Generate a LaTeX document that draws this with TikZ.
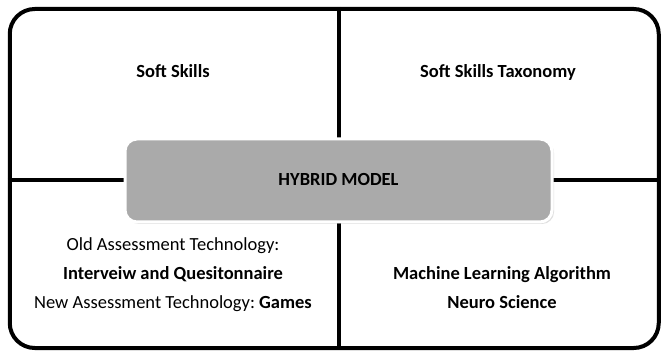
\documentclass[tikz,border=0pt]{standalone}
\usepackage{fontspec}
\setmainfont{Carlito}
\usepackage{tikz}
\usetikzlibrary{shadows}
\definecolor{hybridgray}{RGB}{170,170,170}
\frenchspacing

\begin{document}
\begin{tikzpicture}[x=1pt,y=-1pt]
        \tikzstyle{frameblock}=[rectangle, draw, fill=white, line width=4pt, rounded corners=25pt, minimum width=649pt, minimum height=339pt, inner sep=0pt, drop shadow={opacity=0.3, shadow xshift=1.5pt, shadow yshift=-1.5pt}]
        \tikzstyle{hybridblock}=[rectangle, draw=white, line width=3pt, fill=hybridgray, rounded corners=12pt, minimum width=427pt, minimum height=83pt, inner sep=0pt, drop shadow={opacity=0.25, shadow xshift=2pt, shadow yshift=-2pt}]
        \tikzstyle{quadtext}=[align=center, font=\fontsize{18.5}{29}\selectfont]
        \tikzstyle{oneline}=[quadtext, text height=2.2ex, text depth=0.1ex]
        \useasboundingbox (0,0) rectangle (663,352);
        \node[frameblock] (frame) at (334.25,178.5) {};
        \coordinate (mid) at (338.5,180.5);
        \draw [line width=4pt] (frame.north -| mid) -- (frame.south -| mid);
        \draw [line width=4pt] (frame.west |- mid) -- (frame.east |- mid);
        \node[hybridblock, oneline] (hybrid) at (mid) {\textbf{HYBRID MODEL}};
        \node[oneline] (soft) at (173,72) {\textbf{Soft Skills}};
        \node[oneline] (taxonomy) at (498,72) {\textbf{Soft Skills Taxonomy}};
        \node[quadtext] (assess) at (173,275) {Old Assessment Technology:\\ \textbf{Interveiw and Quesitonnaire}\\ New Assessment Technology: \textbf{Games}};
        \node[quadtext] (ml) at (502,288) {\textbf{Machine Learning Algorithm}\\ \textbf{Neuro Science}};
\end{tikzpicture}
\end{document}
